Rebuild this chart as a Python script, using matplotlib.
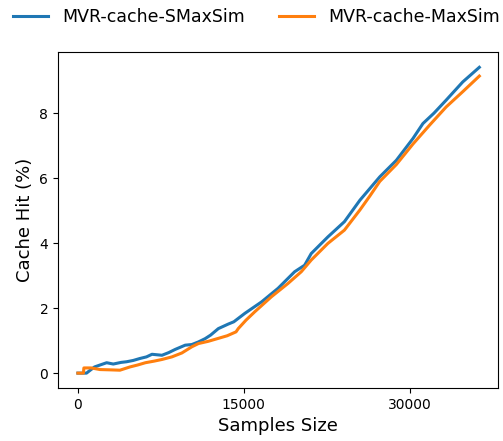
import matplotlib.pyplot as plt

# samples size (x1000) and cache hit (%)
smaxsim_x = [0.0, 0.78, 1.0, 1.5, 2.0, 2.6, 3.2, 3.9, 4.4, 5.0, 5.6, 6.2, 6.7, 7.6, 8.2,
             8.8, 9.7, 10.3, 10.9, 11.5, 12.0, 12.7, 13.6, 14.1, 15.1, 16.6, 18.1, 19.6,
             20.5, 21.1, 22.6, 24.1, 25.5, 27.3, 28.8, 30.3, 31.2, 32.2, 33.3, 34.8, 36.3]
smaxsim_y = [0.0, 0.0, 0.06, 0.19, 0.25, 0.32, 0.28, 0.33, 0.35, 0.39, 0.45, 0.50, 0.58,
             0.55, 0.63, 0.73, 0.86, 0.88, 0.96, 1.06, 1.17, 1.37, 1.51, 1.58, 1.84, 2.19,
             2.61, 3.12, 3.32, 3.68, 4.19, 4.66, 5.32, 6.04, 6.55, 7.22, 7.68, 8.0, 8.40,
             8.96, 9.41]

maxsim_x = [0.0, 0.50, 0.54, 1.2, 2.0, 3.0, 3.8, 4.7, 5.4, 6.1, 6.9, 7.6, 8.5, 9.4,
            10.3, 10.9, 11.8, 12.6, 13.5, 14.3, 14.5, 15.2, 16.0, 17.5, 19.0, 20.2, 21.1,
            22.6, 24.1, 25.5, 26.4, 27.3, 28.8, 30.3, 31.8, 33.3, 34.8, 36.3]
maxsim_y = [0.0, 0.0, 0.16, 0.16, 0.11, 0.10, 0.09, 0.19, 0.25, 0.32, 0.37, 0.42, 0.50,
            0.62, 0.81, 0.91, 0.98, 1.06, 1.15, 1.27, 1.37, 1.63, 1.89, 2.35, 2.76, 3.12,
            3.48, 3.99, 4.40, 5.02, 5.45, 5.90, 6.42, 7.05, 7.63, 8.19, 8.66, 9.14]

xticks = [0, 15000, 30000]

fig = plt.figure(figsize=(5.03, 4.41), dpi=100)
ax = fig.add_axes([0.1153, 0.120, 0.875, 0.762])

ax.plot([v * 1000 for v in smaxsim_x], smaxsim_y, color="#1f77b4", lw=2.2,
        label="MVR-cache-SMaxSim")
ax.plot([v * 1000 for v in maxsim_x], maxsim_y, color="#ff7f0e", lw=2.2,
        label="MVR-cache-MaxSim")

ax.set_xlim(-1800, 38000)
ax.set_ylim(-0.46, 9.88)
ax.set_xticks(xticks)
ax.set_yticks([0, 2, 4, 6, 8])
ax.tick_params(labelsize=10)
ax.set_xlabel("Samples Size", fontsize=13)
ax.set_ylabel("Cache Hit (%)", fontsize=13)

fig.legend(loc="center", bbox_to_anchor=(0.51, 0.961), ncol=2, frameon=False,
           fontsize=12.5, columnspacing=2.0, handletextpad=0.8)

fig.savefig("out.png", dpi=100)
